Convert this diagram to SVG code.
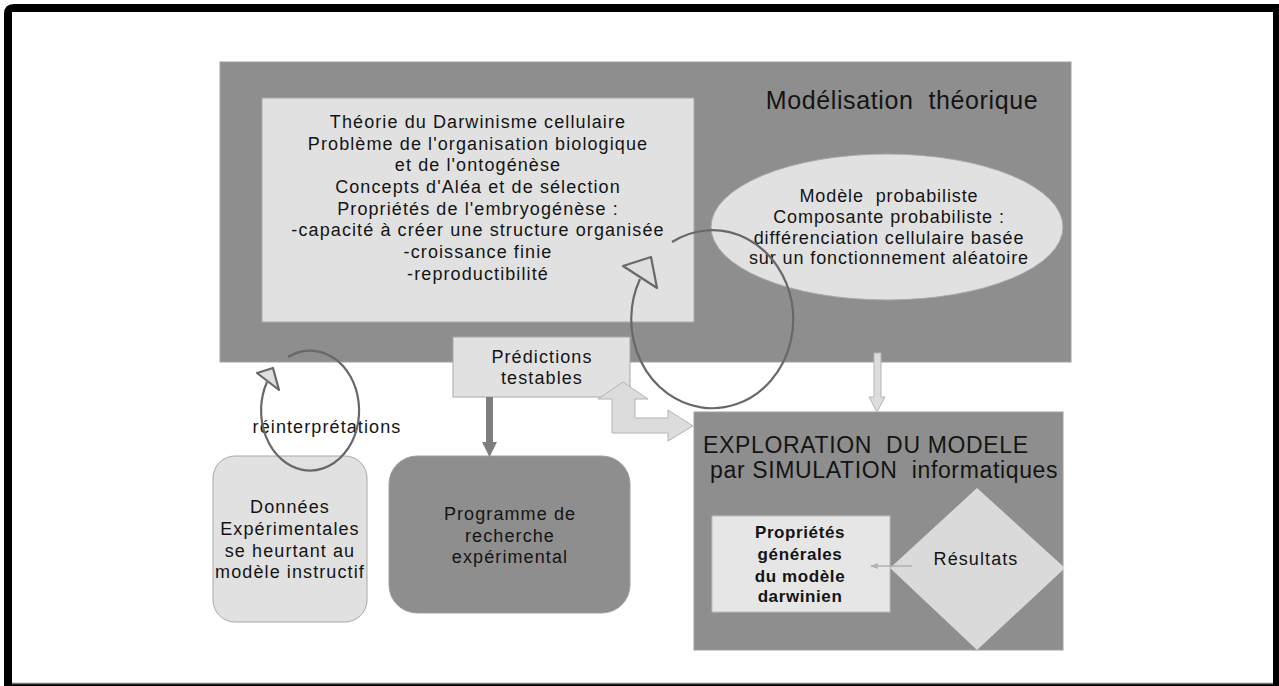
<svg xmlns="http://www.w3.org/2000/svg" width="1279" height="686" viewBox="0 0 1279 686">
<style>
text{font-family:"Liberation Sans",Arial,sans-serif;fill:#141414;text-anchor:middle;white-space:pre}
.t17{font-size:18px;letter-spacing:1.1px}
.t16{font-size:18px;letter-spacing:0.9px}
.t22{font-size:23px;letter-spacing:0.65px;text-anchor:start}
.tb{font-size:17px;font-weight:bold;letter-spacing:0.6px}
.dark{fill:#8e8e8e}
.light{fill:#e1e1e1;stroke:#a8a8a8;stroke-width:1}
.loop{fill:none;stroke:#686868;stroke-width:2.2}
.head{fill:#dedede;stroke:#686868;stroke-width:2.2;stroke-linejoin:round}
.block{fill:#dcdcdc;stroke:#b4b4b4;stroke-width:1}
</style>
<defs>
<marker id="sm" viewBox="0 0 10 10" refX="9" refY="5" markerWidth="5" markerHeight="5" orient="auto">
<path d="M0,1 L10,5 L0,9 z" fill="#b0b0b0"/>
</marker>
</defs>
<rect x="0" y="0" width="1279" height="686" fill="#ffffff"/>
<g id="frame">
<path d="M4,686 L4,14 Q4,4 14,4 L1279,4 L1279,686 Z" fill="#000"/>
<rect x="12" y="12" width="1261" height="671" fill="#fff"/>
<line x1="12" y1="683.5" x2="1273" y2="683.5" stroke="#7a7a7a" stroke-width="1.5"/>
</g>
<g id="modelisation">
<rect x="220" y="62" width="851" height="300" class="dark" stroke="#a0a0a0" stroke-width="1"/>
<text x="902" y="109" style="font-size:25px;letter-spacing:0.6px">Modélisation  théorique</text>
</g>
<g id="theorie">
<rect x="262" y="98" width="432" height="224" class="light"/>
<text class="t17" x="478" y="128">Théorie du Darwinisme cellulaire</text>
<text class="t17" x="478" y="150">Problème de l'organisation biologique</text>
<text class="t17" x="478" y="171">et de l'ontogénèse</text>
<text class="t17" x="478" y="193">Concepts d'Aléa et de sélection</text>
<text class="t17" x="478" y="215">Propriétés de l'embryogénèse :</text>
<text class="t17" x="478" y="236">-capacité à créer une structure organisée</text>
<text class="t17" x="478" y="258">-croissance finie</text>
<text class="t17" x="478" y="280">-reproductibilité</text>
</g>
<g id="probabiliste">
<ellipse cx="887" cy="227" rx="176" ry="73" class="light" stroke="none"/>
<text class="t16" x="889" y="202">Modèle  probabiliste</text>
<text class="t16" x="889" y="223">Composante probabiliste :</text>
<text class="t16" x="889" y="244">différenciation cellulaire basée</text>
<text class="t16" x="889" y="264">sur un fonctionnement aléatoire</text>
</g>
<g id="predictions">
<rect x="453" y="337" width="177" height="60" class="light"/>
<text class="t17" x="542" y="363">Prédictions</text>
<text class="t17" x="542" y="384">testables</text>
</g>
<g id="donnees">
<rect x="213" y="456" width="154" height="166" rx="22" class="light"/>
<text class="t17" x="290" y="513">Données</text>
<text class="t17" x="290" y="535">Expérimentales</text>
<text class="t17" x="290" y="557">se heurtant au</text>
<text class="t17" x="290" y="578">modèle instructif</text>
</g>
<g id="programme">
<rect x="389" y="456" width="241" height="157" rx="28" class="dark" stroke="#a0a0a0" stroke-width="1"/>
<text class="t17" x="510" y="520">Programme de</text>
<text class="t17" x="510" y="542">recherche</text>
<text class="t17" x="510" y="563">expérimental</text>
</g>
<g id="exploration">
<rect x="694" y="412" width="369" height="238" class="dark" stroke="#a0a0a0" stroke-width="1"/>
<text class="t22" x="703" y="453">EXPLORATION  DU MODELE</text>
<text class="t22" x="710" y="478">par SIMULATION  informatiques</text>
</g>
<g id="proprietes">
<rect x="712" y="516" width="178" height="96" fill="#e6e6e6" stroke="#bdbdbd" stroke-width="1"/>
<text class="tb" x="800" y="538">Propriétés</text>
<text class="tb" x="800" y="560">générales</text>
<text class="tb" x="800" y="582">du modèle</text>
<text class="tb" x="800" y="602">darwinien</text>
</g>
<g id="resultats">
<polygon points="977,488 1065,568 977,650 890,568" fill="#dadada"/>
<text class="t17" x="976" y="565">Résultats</text>
</g>
<g id="reinterpretations-label">
<text class="t17" x="327" y="433">réinterprétations</text>
</g>
<g id="connectors">
<polygon points="486,397 493,397 493,442 497,442 489.5,457 482,442 486,442" fill="#7e7e7e"/>
<polygon points="874,353 881,353 881,397 885,397 877,412 869,397 874,397" class="block"/>
<polygon points="623,382 648,399 635,399 635,418 668,418 668,410 693,426 668,441 668,433 612,433 612,399 598,399" class="block"/>
<line x1="912" y1="566" x2="871" y2="566" stroke="#b0b0b0" stroke-width="1.5" marker-end="url(#sm)"/>
<path class="loop" d="M672,242 A81,89 0 1 1 640,279"/>
<polygon class="head" points="623,266 651,257 657,288"/>
<path class="loop" d="M288,357 A49,60 0 1 1 267,382"/>
<polygon class="head" points="257,373 273,368 279,390"/>
</g>
</svg>
